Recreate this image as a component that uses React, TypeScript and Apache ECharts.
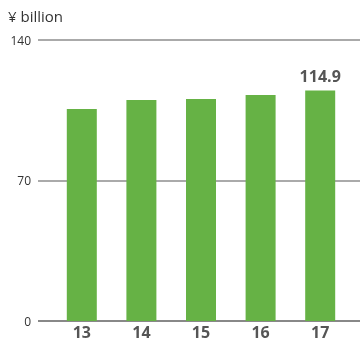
import React, { useEffect, useRef } from "react";
import * as echarts from "echarts";

const categories = ["13", "14", "15", "16", "17"];
const values = [105.6, 110.1, 110.6, 112.6, 114.9];
const yTicks = [0, 70, 140];
const unitLabel = "¥ billion";

export default function App() {
  const ref = useRef<HTMLDivElement>(null);
  useEffect(() => {
    if (!ref.current) return;
    const chart = echarts.init(ref.current, undefined, { renderer: "svg" });
    const lastIdx = values.length - 1;
    chart.setOption({
      animation: false,
      graphic: [
        {
          type: "text",
          left: 8,
          top: 8,
          style: { text: unitLabel, fontSize: 15, fill: "#333", fontFamily: "'Open Sans', sans-serif" },
        },
      ],
      grid: [
        { left: 38, right: 0, top: 40, bottom: 21 },
        { left: 52, right: 10, top: 40, bottom: 21 },
      ],
      xAxis: [
        { type: "value", gridIndex: 0, show: false, min: 0, max: 1 },
        {
          type: "category",
          gridIndex: 1,
          data: categories,
          axisLine: { show: false },
          axisTick: { show: false },
          axisLabel: {
            color: "#555",
            fontSize: 16,
            lineHeight: 16,
            fontWeight: "bold",
            fontFamily: "'Open Sans', sans-serif",
            margin: 3,
          },
        },
      ],
      yAxis: [
        {
          type: "value",
          gridIndex: 0,
          min: yTicks[0],
          max: yTicks[yTicks.length - 1],
          interval: 70,
          axisLine: { show: false },
          axisTick: { show: false },
          axisLabel: { color: "#333", fontSize: 12, margin: 7, fontFamily: "'Open Sans', sans-serif" },
          splitLine: { lineStyle: { color: ["#888", "#aaa", "#aaa"], width: 2 } },
        },
        {
          type: "value",
          gridIndex: 1,
          min: yTicks[0],
          max: yTicks[yTicks.length - 1],
          interval: 70,
          show: false,
          splitLine: { show: false },
        },
      ],
      series: [
        {
          type: "bar",
          xAxisIndex: 1,
          yAxisIndex: 1,
          barWidth: 30,
          itemStyle: { color: "#66b245" },
          data: values.map((v, i) => ({
            value: v,
            label: {
              show: i === lastIdx,
              position: "top",
              distance: 6,
              color: "#555",
              fontSize: 16,
              fontWeight: "bold",
              fontFamily: "'Open Sans', sans-serif",
              formatter: (p: any) => p.value.toFixed(1),
            },
          })),
        },
      ],
    });
    return () => chart.dispose();
  }, []);
  return (
    <div
      ref={ref}
      style={{ position: "fixed", left: 0, top: 0, width: 360, height: 342 }}
    />
  );
}
